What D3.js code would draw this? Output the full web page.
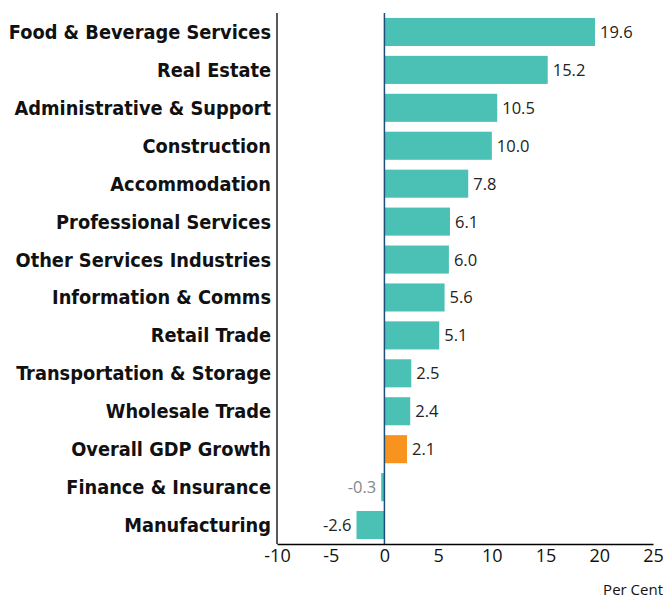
<!DOCTYPE html>
<html><head><meta charset="utf-8">
<script src="https://cdn.jsdelivr.net/npm/d3@7"></script>
<style>body{margin:0;background:#fff}</style>
</head><body>
<svg id="chart" width="667" height="599"></svg>
<script>
const categories = ["Food & Beverage Services","Real Estate","Administrative & Support","Construction","Accommodation","Professional Services","Other Services Industries","Information & Comms","Retail Trade","Transportation & Storage","Wholesale Trade","Overall GDP Growth","Finance & Insurance","Manufacturing"];
const values = [19.6,15.2,10.5,10.0,7.8,6.1,6.0,5.6,5.1,2.5,2.4,2.1,-0.3,-2.6];
const highlight = ["Overall GDP Growth"];
const xTicks = [-10,-5,0,5,10,15,20,25];

(function(){
const svg = d3.select("#chart");
const mLeft = 277, mRight = 653, mTop = 13, mBottom = 544;
const x = d3.scaleLinear().domain([-10,25]).range([mLeft,mRight]);
const y = d3.scaleBand().domain(categories).range([mTop,mBottom]).paddingInner(0.26).paddingOuter(0.13);

svg.selectAll("rect.bar").data(categories).enter().append("rect")
  .attr("x",(d,i)=>x(Math.min(0,values[i])))
  .attr("y",d=>y(d))
  .attr("width",(d,i)=>Math.abs(x(values[i])-x(0)))
  .attr("height",y.bandwidth())
  .attr("fill",d=>highlight.includes(d)?"#F7931E":"#4BC0B5");

svg.selectAll("text.val").data(categories).enter().append("text")
  .attr("x",(d,i)=>values[i]>=0? x(values[i])+5 : x(values[i])-5)
  .attr("y",d=>y(d)+y.bandwidth()/2+6)
  .attr("text-anchor",(d,i)=>values[i]>=0?"start":"end")
  .attr("font-family","'Open Sans', sans-serif")
  .attr("font-size",16.5)
  .attr("fill",(d,i)=>values[i]===-0.3?"#888":"#222")
  .text((d,i)=>values[i].toFixed(1));

svg.selectAll("text.cat").data(categories).enter().append("text")
  .attr("x",271)
  .attr("y",d=>y(d)+y.bandwidth()/2+7)
  .attr("text-anchor","end")
  .attr("font-family","'DejaVu Sans Condensed', sans-serif")
  .attr("font-weight","bold")
  .attr("font-size",19.8)
  .attr("fill","#111")
  .text(d=>d);

svg.append("line").attr("x1",mLeft).attr("x2",mLeft).attr("y1",mTop).attr("y2",mBottom).attr("stroke","#000").attr("stroke-width",1.3);
svg.append("line").attr("x1",x(0)).attr("x2",x(0)).attr("y1",mTop).attr("y2",mBottom).attr("stroke","#1d4f7a").attr("stroke-width",1.5);

const xAxis = d3.axisBottom(x).tickValues(xTicks).tickSize(0).tickPadding(5).tickFormat(d=>String(d));
const g = svg.append("g").attr("transform",`translate(0,${mBottom})`).call(xAxis);
g.select(".domain").attr("stroke","#000").attr("stroke-width",1.3);
g.selectAll("text").attr("font-family","'Open Sans', sans-serif").attr("font-size",18).attr("fill","#111");

svg.append("text").attr("x",663).attr("y",595).attr("text-anchor","end")
  .attr("font-family","'Open Sans', sans-serif").attr("font-size",15).attr("fill","#111").text("Per Cent");
})();
</script>
</body></html>
